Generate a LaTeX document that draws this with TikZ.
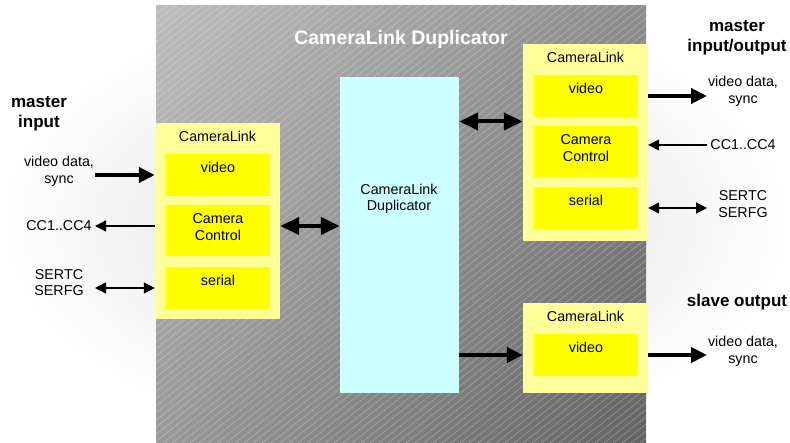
\documentclass[tikz,border=0pt]{standalone}
\usepackage{fontspec}
\setmainfont{Liberation Sans}
\usepackage{xcolor}
\usepackage{tikz}
\usetikzlibrary{positioning}
\usetikzlibrary{arrows.meta}
\usetikzlibrary{shadings}
\definecolor{clpale}{HTML}{FFFF99}
\definecolor{clyellow}{HTML}{FFFF00}
\definecolor{dupcyan}{HTML}{CCFFFF}
\tikzset{
    txt/.style={font=\fontsize{14.3}{16.6}\selectfont, align=center, inner sep=0},
    hd/.style={font=\fontsize{17}{20}\selectfont\bfseries, align=center, inner sep=0},
    ttl/.style={font=\fontsize{19.5}{23}\selectfont\bfseries, text=white, inner sep=0},
    clbox/.style={fill=clpale, minimum width=125, minimum height=#1, inner sep=0,%
        label={[txt, anchor=north, yshift=-8.5]north:CameraLink}},
    sub/.style 2 args={fill=clyellow, minimum width=104, minimum height=#1, inner sep=0,%
        label={[txt, anchor=north, yshift=-8.5]north:#2}},
    hatch/.style={white, opacity=.3, line width=.6pt},
    fat/.style={line width=4pt, -{Triangle[length=16pt,width=15pt]}},
    fatboth/.style={line width=4pt, {Triangle[length=19pt,width=17pt]}-{Triangle[length=19pt,width=17pt]}},
    slim/.style={line width=1.3pt, -{Triangle[length=11pt,width=11pt]}},
    slimboth/.style={line width=1.3pt, {Triangle[length=11pt,width=11pt]}-{Triangle[length=11pt,width=11pt]}},
}

\begin{document}
\begin{tikzpicture}[x=1pt,y=-1pt]
    \useasboundingbox (0,0) rectangle (790,443);
    \shade[inner color=black!15, outer color=white] (0,0) rectangle (790,443);
    \shade[upper left=black!26, upper right=black!45, lower left=black!40, lower right=black!61] (156,6) rectangle (646,443);
    \begin{scope}
        \clip (156,6) rectangle (646,443);
        \foreach \i in {-404,-395,...,646} \draw[hatch] (\i,443) -- ++(560,-443);
    \end{scope}
    \node[ttl] (title) at (401,39) {CameraLink Duplicator};

    \node[fill=dupcyan, minimum width=119, minimum height=316, inner sep=0] (dup) at (399.5,235) {};
    \node[txt] (duplbl) at (399,199) {CameraLink\\Duplicator};

    \node[clbox=196] (ca) at (217.5,221) {};
    \node[sub={42}{video}] (cav) at (218,175) {};
    \node[sub={51}{Camera\\Control}] (cac) at (218,230.5) {};
    \node[sub={42}{serial}] (cas) at (218,288) {};

    \node[clbox=197] (cb) at (585.5,142.5) {};
    \node[sub={42}{video}] (cbv) at (586,96) {};
    \node[sub={51}{Camera\\Control}] (cbc) at (586,151.5) {};
    \node[sub={42}{serial}] (cbs) at (586,208) {};

    \node[clbox=90] (cc) at (585.5,348) {};
    \node[sub={42}{video}] (ccv) at (586,355) {};

    \node[hd] (mi) at (39,113.5) {master\\input};
    \node[txt] (lvid) at (59,171.5) {video data,\\sync};
    \node[txt] (lcc) at (59,226) {CC1..CC4};
    \node[txt] (lser) at (59,282.5) {SERTC\\SERFG};
    \node[hd] (mio) at (737,38) {master\\input/output};
    \node[txt] (rvid) at (743,91.5) {video data,\\sync};
    \node[txt] (rcc) at (743,145) {CC1..CC4};
    \node[txt] (rser) at (743,204) {SERTC\\SERFG};
    \node[hd] (so) at (737,302) {slave output};
    \node[txt] (svid) at (743,351.5) {video data,\\sync};

    \coordinate (le) at (95,0);
    \coordinate (re) at (707,0);
    \path (cbv.south) -- coordinate[midway] (bmid) (cbc.north);

    \draw[fat] (le |- cav) -- (ca.west |- cav);
    \draw[slim] (ca.west |- lcc) -- (le |- lcc);
    \draw[slimboth] (le |- cas) -- (ca.west |- cas);
    \draw[fatboth] (ca.east |- lcc) -- (dup.west |- lcc);
    \draw[fatboth] (dup.east |- bmid) -- (cb.west |- bmid);
    \draw[fat] (dup.east |- ccv) -- (cc.west |- ccv);
    \draw[fat] (cb.east |- cbv) -- (re |- cbv);
    \draw[slim] (re |- rcc) -- (cb.east |- rcc);
    \draw[slimboth] (cb.east |- cbs) -- (re |- cbs);
    \draw[fat] (cc.east |- ccv) -- (re |- ccv);
\end{tikzpicture}
\end{document}
